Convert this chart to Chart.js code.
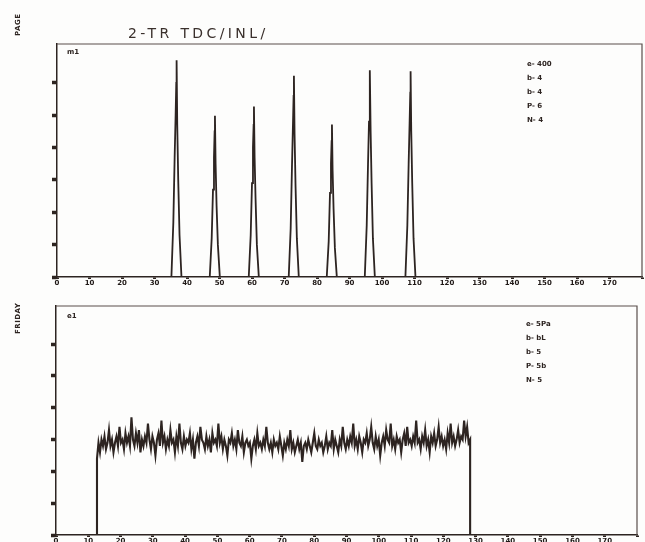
<!DOCTYPE html>
<html>
<head>
<meta charset="utf-8">
<script src="https://cdn.jsdelivr.net/npm/chart.js@4/dist/chart.umd.min.js"></script>
<style>
  html,body{margin:0;padding:0;background:#fdfdfc;}
  body{width:645px;height:542px;position:relative;overflow:hidden;font-family:"DejaVu Sans",sans-serif;color:#2d2421;}
  canvas{position:absolute;left:0;}
  .t{position:absolute;white-space:nowrap;}
  .rot{transform-origin:left top;transform:rotate(-90deg);font-size:7px;font-weight:bold;letter-spacing:0.5px;}
  .leg{font-size:7px;font-weight:bold;line-height:7px;}
</style>
</head>
<body>
<canvas id="c1" width="645" height="290" style="top:0"></canvas>
<canvas id="c2" width="645" height="252" style="top:290px"></canvas>

<div class="t" style="left:128px;top:25px;font-size:14px;letter-spacing:3.4px;color:#3a302c;">2-TR TDC/INL/</div>
<div class="t rot" style="left:14px;top:36px;">PAGE</div>
<div class="t rot" style="left:14px;top:334px;">FRIDAY</div>
<div class="t" style="left:67px;top:48px;font-size:7px;font-weight:bold;">m1</div>
<div class="t" style="left:67px;top:312px;font-size:7px;font-weight:bold;">e1</div>

<div class="t leg" style="left:527px;top:61px;">e- 400<br><br>b- 4<br><br>b- 4<br><br>P- 6<br><br>N- 4</div>
<div class="t leg" style="left:526px;top:321px;">e- 5Pa<br><br>b- bL<br><br>b- 5<br><br>P- 5b<br><br>N- 5</div>

<script>
// ---- data ----
const xMin = 0, xMax = 18;
const yMin = 0, yMax = 7.2;
const xTickLabels = ['0','10','20','30','40','50','60','70','80','90','100','110','120','130','140','150','160','170',''];

// top panel: seven peaks (x in axis units, y in axis units)
const peakX = [
  0,
  3.52, 3.58, 3.62, 3.65, 3.67, 3.68, 3.70, 3.73, 3.77, 3.83,
  4.70, 4.76, 4.80, 4.83, 4.85, 4.86, 4.88, 4.91, 4.95, 5.01,
  5.90, 5.96, 6.00, 6.03, 6.05, 6.06, 6.08, 6.11, 6.15, 6.21,
  7.13, 7.19, 7.23, 7.26, 7.28, 7.29, 7.31, 7.34, 7.38, 7.44,
  8.30, 8.36, 8.40, 8.43, 8.45, 8.46, 8.48, 8.51, 8.55, 8.61,
  9.47, 9.53, 9.57, 9.60, 9.62, 9.63, 9.65, 9.68, 9.72, 9.78,
  10.72, 10.78, 10.82, 10.85, 10.87, 10.88, 10.90, 10.93, 10.97, 11.03,
  18
];
const peakY = [
  0,
  0, 1.7, 3.7, 5.0, 6.0, 6.70, 4.7, 3.0, 1.3, 0,
  0, 1.2, 2.7, 3.7, 4.5, 4.98, 3.5, 2.2, 1.0, 0,
  0, 1.3, 2.9, 4.0, 4.7, 5.27, 3.7, 2.4, 1.0, 0,
  0, 1.5, 3.4, 4.7, 5.6, 6.22, 4.4, 2.8, 1.2, 0,
  0, 1.1, 2.6, 3.5, 4.2, 4.71, 3.3, 2.1, 0.9, 0,
  0, 1.6, 3.5, 4.8, 5.8, 6.39, 4.5, 2.9, 1.2, 0,
  0, 1.6, 3.5, 4.8, 5.7, 6.36, 4.5, 2.9, 1.2, 0,
  0
];

// bottom panel: noisy plateau sampled at regular steps
const noiseStart = 1.27, noiseEnd = 12.83;
const noiseY = [
  2.4, 2.9, 2.6, 3.0, 2.8, 3.1, 2.7, 2.9, 3.3, 2.8,
  3.0, 2.6, 2.9, 3.1, 2.8, 3.4, 2.9, 3.0, 2.7, 3.2,
  2.9, 3.1, 2.8, 3.7, 3.0, 2.8, 3.2, 2.9, 3.3, 2.6,
  3.0, 2.8, 3.1, 2.9, 3.5, 3.0, 2.7, 3.1, 2.9, 2.5,
  3.0, 3.2, 2.8, 3.6, 2.9, 3.1, 2.7, 3.0, 2.8, 3.3,
  2.9, 3.0, 2.6, 3.1, 2.8, 3.5, 2.9, 2.7, 3.1, 2.8,
  3.0, 2.9, 3.2, 2.7, 3.0, 2.4, 2.9, 3.1, 2.8, 3.4,
  3.0, 2.9, 2.7, 3.1, 2.8, 3.0, 2.6, 3.2, 2.9, 3.0,
  2.8, 3.5, 2.9, 3.1, 2.7, 3.0, 2.8, 2.5, 3.0, 2.9,
  3.2, 2.8, 3.0, 2.7, 3.3, 2.9, 2.8, 3.1, 2.6, 2.9,
  3.0, 2.8, 2.9, 2.4, 2.8, 3.0, 2.7, 3.2, 2.8, 2.9,
  2.7, 3.0, 2.8, 3.4, 2.9, 2.7, 2.9, 2.6, 3.0, 2.8,
  2.9, 2.7, 3.1, 2.8, 2.5, 2.9, 2.7, 3.0, 2.8, 3.3,
  2.7, 2.9, 2.6, 2.8, 3.0, 2.7, 2.9, 2.3, 2.8, 2.9,
  2.7, 3.0, 2.8, 2.6, 2.9, 3.2, 2.8, 2.7, 3.0, 2.8,
  2.9, 2.6, 2.8, 3.1, 2.7, 2.9, 2.8, 3.3, 2.7, 3.0,
  2.8, 2.6, 3.0, 2.8, 3.4, 2.9, 2.7, 3.0, 2.8, 3.1,
  2.9, 3.5, 2.8, 3.0, 2.7, 3.1, 2.9, 2.6, 3.0, 2.9,
  3.2, 2.8, 3.0, 3.4, 2.9, 2.7, 3.1, 2.8, 3.0, 2.5,
  2.9, 3.1, 2.8, 3.3, 3.0, 2.9, 3.5, 2.8, 3.0, 2.7,
  3.1, 2.9, 3.0, 2.6, 3.0, 3.2, 2.8, 3.4, 2.9, 3.0,
  2.8, 3.1, 2.9, 3.6, 2.9, 3.0, 2.7, 3.1, 2.9, 3.3,
  2.8, 3.0, 2.6, 3.1, 2.9, 3.2, 2.8, 3.0, 3.4, 2.9,
  3.1, 2.8, 3.0, 2.7, 3.2, 2.9, 3.5, 2.9, 3.1, 2.8,
  3.0, 3.3, 2.9, 3.1, 3.0, 3.6, 3.1, 3.4, 2.9, 3.0
];

// ---- build ----
const INK = '#2d2421';

const topPoints = peakX.map((x, i) => ({x: x, y: peakY[i]}));
const step = (noiseEnd - noiseStart) / (noiseY.length - 1);
const botPoints = [{x: 0, y: 0}, {x: noiseStart, y: 0}]
  .concat(noiseY.map((v, i) => ({x: noiseStart + i * step, y: v})))
  .concat([{x: noiseEnd, y: 0}, {x: xMax, y: 0}]);

const framePlugin = {
  id: 'frame',
  afterDraw(chart) {
    const a = chart.chartArea, ctx = chart.ctx;
    ctx.save();
    ctx.strokeStyle = '#5a4f4b';
    ctx.lineWidth = 1.2;
    ctx.beginPath();
    ctx.moveTo(a.left, a.top);
    ctx.lineTo(a.right, a.top);
    ctx.lineTo(a.right, a.bottom);
    ctx.stroke();
    ctx.restore();
  }
};

function makeChart(id, points, leftW, bottomH, padTop, padRight, lw) {
  return new Chart(document.getElementById(id), {
    type: 'line',
    data: { datasets: [{ data: points, borderColor: INK, borderWidth: lw, pointRadius: 0, tension: 0, fill: false, borderJoinStyle: 'miter' }] },
    options: {
      responsive: false, animation: false, devicePixelRatio: 1,
      layout: { padding: { top: padTop, right: padRight, left: 0, bottom: 0 } },
      plugins: { legend: { display: false }, tooltip: { enabled: false } },
      scales: {
        x: {
          type: 'linear', min: xMin, max: xMax,
          afterFit(s) { s.height = bottomH; },
          afterBuildTicks(s) { s.ticks = s.ticks.filter(t => Number.isInteger(t.value)); },
          ticks: {
            stepSize: 1, autoSkip: false, maxRotation: 0, padding: 0,
            color: '#1f1816', font: { family: 'DejaVu Sans', size: 7, weight: 'bold' },
            callback: (v) => xTickLabels[v] !== undefined ? xTickLabels[v] : ''
          },
          grid: { drawOnChartArea: false, drawTicks: true, tickLength: 2, tickWidth: 3, tickColor: INK },
          border: { color: INK, width: 1.5 }
        },
        y: {
          type: 'linear', min: yMin, max: yMax,
          afterFit(s) { s.width = leftW; },
          afterBuildTicks(s) { s.ticks = s.ticks.filter(t => Number.isInteger(t.value)); },
          ticks: { stepSize: 1, display: false },
          grid: { drawOnChartArea: false, drawTicks: true, tickLength: 5, tickWidth: 3.5, tickColor: INK },
          border: { color: INK, width: 1.5 }
        }
      }
    },
    plugins: [framePlugin]
  });
}

makeChart('c1', topPoints, 57, 13, 44, 3, 1.8);
makeChart('c2', botPoints, 56, 7, 16, 8, 2.1);
</script>
</body>
</html>
